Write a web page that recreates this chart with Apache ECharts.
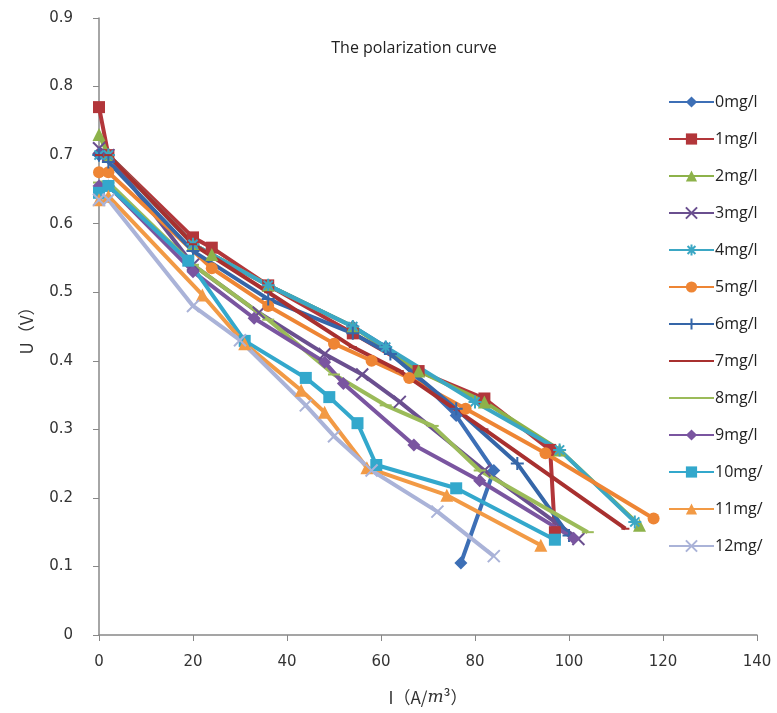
<!DOCTYPE html>
<html><head><meta charset="utf-8">
<script src="https://cdn.jsdelivr.net/npm/echarts@6/dist/echarts.min.js"></script>
<style>html,body{margin:0;padding:0;background:#fff}#c{width:777px;height:713px}</style>
</head><body><div id="c"></div>
<script>
const seriesNames = ['0mg/l','1mg/l','2mg/l','3mg/l','4mg/l','5mg/l','6mg/l','7mg/l','8mg/l','9mg/l','10mg/','11mg/','12mg/'];
const s0  = [[0,0.70],[2,0.70],[20,0.57],[36,0.51],[54,0.45],[61,0.42],[76,0.32],[84,0.24],[77,0.105]];
const s1  = [[0,0.77],[2,0.70],[20,0.58],[24,0.565],[36,0.51],[54,0.44],[68,0.385],[82,0.345],[96,0.27],[97,0.15]];
const s2  = [[0,0.73],[2,0.70],[20,0.57],[24,0.555],[36,0.51],[54,0.45],[68,0.385],[82,0.34],[98,0.27],[115,0.16]];
const s3  = [[0,0.71],[2,0.70],[20,0.54],[34,0.47],[48,0.41],[56,0.38],[64,0.34],[82,0.24],[102,0.14]];
const s4  = [[0,0.70],[2,0.70],[20,0.57],[36,0.51],[54,0.45],[61,0.42],[80,0.34],[98,0.27],[114,0.165]];
const s5  = [[0,0.675],[2,0.675],[24,0.535],[36,0.48],[50,0.425],[58,0.40],[66,0.375],[78,0.33],[95,0.265],[118,0.17]];
const s6  = [[0,0.70],[2,0.69],[20,0.56],[36,0.49],[54,0.44],[62,0.41],[76,0.33],[89,0.25],[100,0.145]];
const s7  = [[0,0.70],[2,0.70],[20,0.57],[36,0.50],[54,0.42],[64,0.385],[82,0.30],[112,0.155]];
const s8  = [[0,0.66],[2,0.66],[20,0.54],[36,0.46],[50,0.38],[61,0.335],[71,0.305],[81,0.24],[104,0.15]];
const s9  = [[0,0.655],[2,0.655],[20,0.53],[33,0.462],[48,0.398],[52,0.367],[67,0.277],[81,0.225],[101,0.141]];
const s10 = [[0,0.645],[2,0.655],[19,0.546],[31,0.429],[44,0.375],[49,0.347],[55,0.309],[59,0.248],[76,0.214],[97,0.139]];
const s11 = [[0,0.635],[2,0.64],[22,0.496],[31,0.425],[43,0.357],[48,0.325],[57,0.244],[74,0.204],[94,0.131]];
const s12 = [[0,0.635],[2,0.635],[20,0.48],[30,0.43],[44,0.335],[50,0.29],[58,0.24],[72,0.18],[84,0.115]];
const xTicks = [0,20,40,60,80,100,120,140];
const yTicks = [0,0.1,0.2,0.3,0.4,0.5,0.6,0.7,0.8,0.9];

const allData = [s0,s1,s2,s3,s4,s5,s6,s7,s8,s9,s10,s11,s12];
const colors = ['#3d6fb6','#b2363a','#8db24a','#6a4f8f','#3ba7c4','#ee8534','#3566a8','#a8302f','#9bbb59','#7a55a0','#33a8cc','#f29a45','#aab3d8'];
const xPath = 'path://M0,0 L10,10 M10,0 L0,10';
const starPath = 'path://M5,0 L5,10 M0,5 L10,5 M1.5,1.5 L8.5,8.5 M8.5,1.5 L1.5,8.5';
const plusPath = 'path://M5,0 L5,10 M0,5 L10,5';
const symbols = ['diamond','rect','triangle',xPath,starPath,'circle',plusPath,'rect','rect','diamond','rect','triangle',xPath];
const sizes = [13,12,13,12,13,12,13,[8,2],[12,2],13,12,13,12];

const chart = echarts.init(document.getElementById('c'));
const series = seriesNames.map((n,i)=>{
  const sym = symbols[i];
  const isStroke = sym===xPath || sym===starPath || sym===plusPath;
  return {
    name:n, type:'line', data:allData[i], symbol:sym, symbolSize:sizes[i],
    lineStyle:{color:colors[i], width:4},
    itemStyle: isStroke ? {color:'rgba(0,0,0,0)', borderColor:colors[i], borderWidth:2} : {color:colors[i]},
    color: colors[i],
    emphasis:{disabled:true}, animation:false
  };
});
const legendData = seriesNames.map((n,i)=> (i===7||i===8) ? {name:n, itemStyle:{opacity:0}} : {name:n});
chart.setOption({
  backgroundColor:'#ffffff',
  animation:false,
  title:{text:'The polarization curve', left:409, top:35, textAlign:'center',
    textStyle:{fontFamily:'Open Sans', fontSize:16, fontWeight:'normal', color:'#222'}},
  grid:{left:99, right:20, top:18, bottom:78},
  legend:{orient:'vertical', left:663, top:89, itemWidth:45, itemHeight:14, itemGap:21,
    data:legendData, textStyle:{fontFamily:'Open Sans', fontSize:16, color:'#222', padding:[0,0,0,-4]}},
  xAxis:{type:'value', min:0, max:140, interval:20,
    name:'{a|I（A/}{i|m}{a|³）}', nameLocation:'middle', nameGap:54,
    nameTextStyle:{rich:{a:{fontFamily:'Noto Sans CJK SC', fontSize:17, color:'#333'}, i:{fontFamily:'DejaVu Serif', fontStyle:'italic', fontSize:17, color:'#333'}}},
    axisLine:{onZero:false, lineStyle:{color:'#888', width:1.5}},
    axisTick:{show:true, length:6, lineStyle:{color:'#888'}},
    axisLabel:{fontFamily:'DejaVu Sans', fontSize:15, color:'#333', margin:20, formatter:v=>xTicks.includes(v)?String(v):''},
    splitLine:{show:false}},
  yAxis:{type:'value', min:0, max:0.9, interval:0.1,
    name:'U（V）', nameLocation:'middle', nameGap:64, nameRotate:90,
    nameTextStyle:{fontFamily:'Noto Sans CJK SC', fontSize:17, color:'#333'},
    axisLine:{show:true, onZero:false, lineStyle:{color:'#888', width:1.5}},
    axisTick:{show:true, length:6, lineStyle:{color:'#888'}},
    axisLabel:{fontFamily:'DejaVu Sans', fontSize:15, color:'#333', margin:26,
      formatter:v=>{const r=Math.round(v*10)/10; return yTicks.includes(r)? (r===0?'0':r.toFixed(1)) : '';}},
    splitLine:{show:false}},
  series: series
});
</script></body></html>
